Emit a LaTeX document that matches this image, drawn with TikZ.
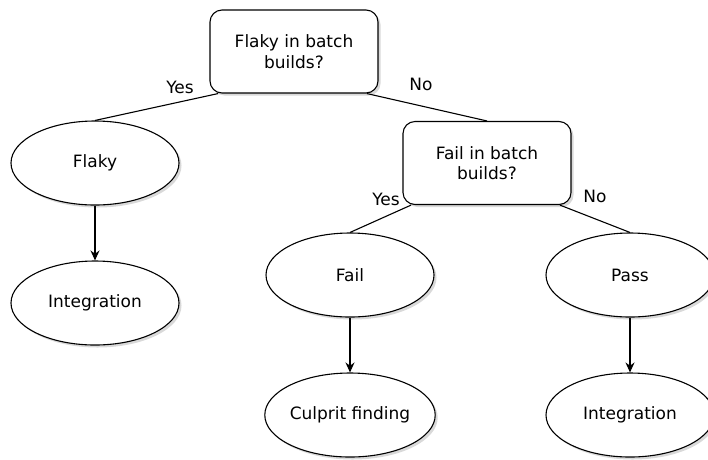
\documentclass[tikz,border=0pt]{standalone}
\usepackage{fontspec}
\setmainfont{DejaVu Sans}
\usetikzlibrary{shapes.geometric,shadows,arrows.meta}

\tikzset{
  question/.style={draw,line width=1.1pt,fill=white,rounded corners=12pt,align=center,
    minimum width=168pt,minimum height=83pt,inner sep=2pt,
    drop shadow={opacity=0.3,shadow xshift=2.5pt,shadow yshift=-2.5pt}},
  outcome/.style={draw,line width=1.1pt,fill=white,ellipse,minimum width=168pt,
    minimum height=84pt,inner sep=0pt,
    drop shadow={opacity=0.3,shadow xshift=2.5pt,shadow yshift=-2.5pt}},
  answer/.style={inner sep=1pt}
}

\begin{document}
\begin{tikzpicture}[x=1pt,y=-1pt,font=\fontsize{17}{20.5}\selectfont]
    \useasboundingbox (0,0) rectangle (708,459);
    % decisions
    \node [question] (flakyq) at (294,51.5) {Flaky in batch\\builds?};
    \node [question] (failq) at (487,163) {Fail in batch\\builds?};
    % outcomes
    \node [outcome] (flaky) at (95,163) {Flaky};
    \node [outcome] (integl) at (95,303) {Integration};
    \node [outcome] (fail) at (350,275) {Fail};
    \node [outcome] (culprit) at (350,415) {Culprit finding};
    \node [outcome] (pass) at (630,275) {Pass};
    \node [outcome] (integr) at (630,415) {Integration};

    \draw[line width=1.1pt] (flakyq.209.6) -- (flaky.north);
    \draw[line width=1.1pt] (flakyq.330.7) -- (failq.north);
    \draw[line width=1.1pt] (failq.209.6) -- (fail.north);
    \draw[line width=1.1pt] (failq.330.7) -- (pass.north);
    \foreach \a/\b in {flaky/integl,fail/culprit,pass/integr} {
      \draw[line width=1.1pt,-{Stealth[length=10pt,width=9pt]}] (\a.south) -- (\b.north);
    }

    \node [answer] (yes1) at (180,87) {Yes};
    \node [answer] (no1) at (421,84) {No};
    \node [answer] (yes2) at (386,199) {Yes};
    \node [answer] (no2) at (595,196) {No};
\end{tikzpicture}
\end{document}
